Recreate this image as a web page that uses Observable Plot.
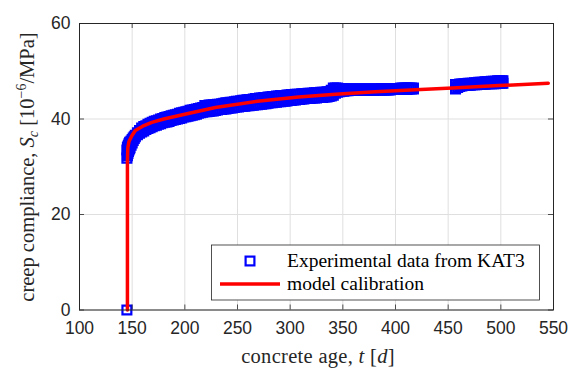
<!DOCTYPE html>
<html><head><meta charset="utf-8">
<script src="https://cdn.jsdelivr.net/npm/d3@7"></script>
<script src="https://cdn.jsdelivr.net/npm/@observablehq/plot@0.6"></script>
<style>
body{margin:0;background:#fff;}
#chart svg{display:block;}
</style></head>
<body><div id="chart"></div>
<script>
// Axis ticks
const xTicks = [100, 150, 200, 250, 300, 350, 400, 450, 500, 550];
const yTicks = [0, 20, 40, 60];

// Experimental data (KAT3): concrete age [d] and low / high reading of the measured compliance band
const expT = [145, 145, 145.5, 146, 146.5, 147, 147.5, 148, 149, 150, 151, 152, 153,
  155, 157, 159, 161, 163, 165, 167, 169, 171, 173, 175, 177, 179, 181, 183, 185, 187, 189, 191, 193, 195, 197, 199,
  201, 203, 205, 207, 209, 211, 213, 215, 217, 219, 221, 223, 225, 227, 229, 231, 233, 235, 237, 239, 241, 243, 245, 247, 249,
  251, 253, 255, 257, 259, 261, 263, 265, 267, 269, 271, 273, 275, 277, 279, 281, 283, 285, 287, 289, 291, 293, 295, 297, 299,
  301, 303, 305, 307, 309, 311, 313, 315, 317, 319, 321, 323, 325, 327, 329, 331, 333,
  335, 337, 339, 341, 343, 345, 347, 349, 351, 353, 355, 357, 359, 361, 363, 365, 367, 369, 371, 373, 375, 377, 379,
  381, 383, 385, 387, 389, 391, 393, 395, 397, 399, 401, 403, 405, 407, 409, 411, 413, 415, 417,
  457, 459, 461, 463, 465, 467, 469, 471, 473, 475, 477, 479, 481, 483, 485, 487, 489, 491, 493, 495, 497, 499, 501, 502];
const expLo = [0, 31.8, 32.3, 32.8, 33.2, 33.5, 33.8, 34.0, 34.5, 35.0, 35.5, 35.9, 36.3,
  36.7, 37.0, 37.3, 37.5, 37.8, 38.0, 38.2, 38.4, 38.6, 38.7, 38.9, 39.0, 39.2, 39.3, 39.4, 39.5, 39.7, 39.8, 39.9, 40.0, 40.1, 40.2, 40.4,
  40.5, 40.6, 40.7, 40.8, 40.9, 41.0, 41.2, 41.3, 41.4, 41.5, 41.5, 41.6, 41.7, 41.7, 41.8, 41.9, 42.0, 42.0, 42.1, 42.1, 42.2, 42.3, 42.3, 42.4, 42.5,
  42.5, 42.6, 42.7, 42.7, 42.8, 42.8, 42.9, 42.9, 43.0, 43.0, 43.1, 43.1, 43.2, 43.2, 43.3, 43.4, 43.4, 43.5, 43.5, 43.6, 43.6, 43.7, 43.7, 43.8, 43.9,
  43.9, 44.0, 44.0, 44.1, 44.1, 44.2, 44.2, 44.3, 44.3, 44.3, 44.4, 44.4, 44.4, 44.5, 44.5, 44.5, 44.6,
  44.6, 44.7, 44.8, 45.0, 45.4, 45.6, 45.7, 45.8, 45.8, 45.9, 45.9, 46.0, 46.0, 46.0, 46.0, 46.0, 46.0, 46.0, 46.0, 46.0, 46.0, 46.0, 46.0,
  46.1, 46.1, 46.1, 46.1, 46.1, 46.1, 46.1, 46.1, 46.2, 46.2, 46.2, 46.2, 46.2, 46.2, 46.2, 46.2, 46.3, 46.3, 46.3,
  46.3, 46.6, 46.8, 46.9, 47.0, 47.0, 47.1, 47.1, 47.2, 47.2, 47.2, 47.3, 47.3, 47.3, 47.3, 47.4, 47.4, 47.4, 47.4, 47.4, 47.5, 47.5, 47.5, 47.5];
const expHi = [0, 33.5, 34.0, 34.3, 34.5, 34.8, 35.0, 35.2, 35.4, 35.7, 36.0, 36.3, 36.6,
  37.1, 37.6, 38.1, 38.4, 38.6, 38.9, 39.1, 39.3, 39.5, 39.65, 39.8, 40.0, 40.1, 40.3, 40.4, 40.5, 40.7, 40.8, 40.9, 41.0, 41.2, 41.3, 41.4,
  41.5, 41.6, 41.8, 41.9, 42.0, 42.1, 42.2, 42.3, 42.4, 42.8, 42.8, 42.9, 42.9, 43.0, 43.0, 43.1, 43.1, 43.2, 43.3, 43.4, 43.4, 43.5, 43.5, 43.6, 43.7,
  43.7, 43.8, 43.9, 43.9, 44.0, 44.1, 44.1, 44.2, 44.3, 44.3, 44.4, 44.4, 44.5, 44.5, 44.6, 44.6, 44.7, 44.7, 44.8, 44.8, 44.9, 44.9, 44.9, 45.0, 45.0,
  45.1, 45.1, 45.2, 45.2, 45.2, 45.3, 45.3, 45.3, 45.4, 45.4, 45.4, 45.5, 45.5, 45.5, 45.6, 45.6, 45.6,
  45.7, 45.7, 46.0, 46.5, 46.5, 46.5, 46.4, 46.4, 46.4, 46.3, 46.3, 46.3, 46.3, 46.3, 46.3, 46.3, 46.3, 46.3, 46.3, 46.3, 46.3, 46.3, 46.3,
  46.3, 46.3, 46.3, 46.4, 46.4, 46.4, 46.4, 46.4, 46.4, 46.4, 46.4, 46.4, 46.5, 46.5, 46.5, 46.5, 46.5, 46.5, 46.5,
  47.2, 47.2, 47.3, 47.3, 47.4, 47.4, 47.5, 47.5, 47.5, 47.6, 47.6, 47.7, 47.7, 47.7, 47.8, 47.8, 47.8, 47.9, 47.9, 47.9, 48.0, 48.0, 48.0, 48.0];

// Model calibration curve
const modelT = [145.5, 145.5, 145.9, 147, 149.7, 153, 160, 168.7, 180, 200, 229, 269, 308, 343, 381, 419, 454, 498, 545];
const modelS = [0, 31, 34.0, 35.3, 36.5, 37.6, 38.5, 39.3, 40.0, 41.0, 42.4, 43.7, 44.6, 45.2, 45.7, 46.1, 46.5, 47.0, 47.5];

if (expT.length !== expLo.length || expT.length !== expHi.length) {
  throw new Error("length mismatch " + expT.length + " " + expLo.length + " " + expHi.length);
}

const expRows = [];
expT.forEach((t, i) => { expRows.push({t, s: expLo[i]}); if (expHi[i] !== expLo[i]) expRows.push({t, s: expHi[i]}); });
const modelRows = modelT.map((t, i) => ({t, s: modelS[i]}));

const axisColor = "#262626";
const tickLenX = 1.05, tickLenY = 4.75;

const svg = Plot.plot({
  width: 582, height: 378,
  marginLeft: 79, marginRight: 29, marginTop: 23, marginBottom: 68.5,
  style: {fontFamily: "'Liberation Sans', Arial, sans-serif", fontSize: "17.5px", color: axisColor, background: "#fff", overflow: "visible"},
  x: {domain: [100, 550], ticks: xTicks, tickSize: 0, tickPadding: 12, label: null, tickFormat: d => String(d)},
  y: {domain: [0, 60], ticks: yTicks, tickSize: 0, tickPadding: 9, label: null, tickFormat: d => String(d)},
  marks: [
    Plot.ruleX(xTicks, {stroke: "#dfdfdf", strokeWidth: 1}),
    Plot.ruleY(yTicks, {stroke: "#dfdfdf", strokeWidth: 1}),
    Plot.dot(expRows, {x: "t", y: "s", symbol: "square", r: 5, stroke: "#0000ff", strokeWidth: 2.2, fill: "none"}),
    Plot.line(modelRows, {x: "t", y: "s", stroke: "#ff0000", strokeWidth: 3.5}),
    Plot.frame({stroke: axisColor, strokeWidth: 1}),
    Plot.ruleX(xTicks, {y1: 0, y2: tickLenX, stroke: axisColor, strokeWidth: 0.8}),
    Plot.ruleX(xTicks, {y1: 60, y2: 60 - tickLenX, stroke: axisColor, strokeWidth: 0.8}),
    Plot.ruleY(yTicks, {x1: 100, x2: 100 + tickLenY, stroke: axisColor, strokeWidth: 0.8}),
    Plot.ruleY(yTicks, {x1: 550, x2: 550 - tickLenY, stroke: axisColor, strokeWidth: 0.8})
  ]
});
document.getElementById("chart").appendChild(svg);

const s = d3.select(svg);
const serif = "'Liberation Serif', 'Times New Roman', serif";

// x-axis title
const xt = s.append("text").attr("x", 318).attr("y", 363).attr("text-anchor", "middle")
  .attr("font-family", serif).attr("font-size", 20.5).attr("letter-spacing", 0.3).attr("fill", axisColor);
xt.append("tspan").text("concrete age, ");
xt.append("tspan").attr("font-style", "italic").text("t");
xt.append("tspan").text(" [");
xt.append("tspan").attr("font-style", "italic").text("d");
xt.append("tspan").text("]");

// y-axis title
const yt = s.append("text").attr("transform", "translate(28,167) rotate(-90)").attr("text-anchor", "middle")
  .attr("dy", "0.3em").attr("font-family", serif).attr("font-size", 20.5).attr("fill", axisColor);
yt.append("tspan").text("creep compliance, ");
yt.append("tspan").attr("font-style", "italic").text("S");
yt.append("tspan").attr("font-style", "italic").attr("font-size", 14).attr("dy", 4).text("c");
yt.append("tspan").attr("dy", -4).text(" [10");
yt.append("tspan").attr("font-size", 14).attr("dy", -8).text("−6");
yt.append("tspan").attr("dy", 8).text("/MPa]");

// legend
const lg = s.append("g").attr("text-anchor", "start");
lg.append("rect").attr("x", 211.5).attr("y", 245).attr("width", 328).attr("height", 55)
  .attr("fill", "#fff").attr("stroke", axisColor).attr("stroke-width", 0.8);
lg.append("rect").attr("x", 245.6).attr("y", 256.6).attr("width", 8.8).attr("height", 8.8)
  .attr("fill", "none").attr("stroke", "#0000ff").attr("stroke-width", 2.2);
lg.append("line").attr("x1", 220).attr("x2", 280).attr("y1", 284).attr("y2", 284)
  .attr("stroke", "#ff0000").attr("stroke-width", 3.5);
lg.append("text").attr("x", 287).attr("y", 267).attr("text-anchor", "start").attr("font-family", serif).attr("font-size", 19.5).attr("fill", "#000")
  .text("Experimental data from KAT3");
lg.append("text").attr("x", 287).attr("y", 290).attr("text-anchor", "start").attr("font-family", serif).attr("font-size", 19.5).attr("fill", "#000")
  .text("model calibration");
</script></body></html>
